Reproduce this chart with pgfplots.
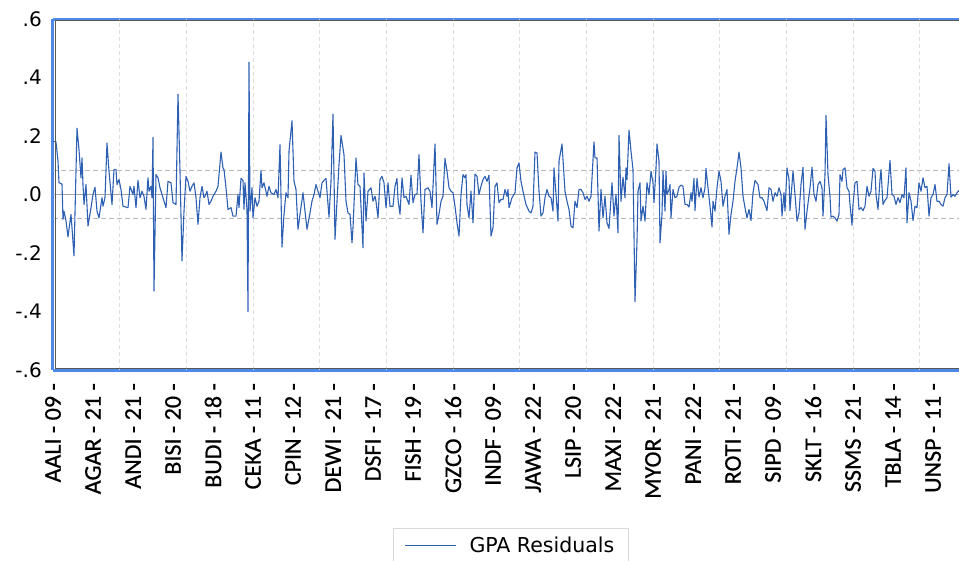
\documentclass[border=0pt]{standalone}
\usepackage{pgfplots}
\pgfplotsset{compat=1.18}
\usepackage{fontspec}
\newfontfamily\dejavu{DejaVu Sans}
\newfontfamily\carlito[FakeBold=0.6]{Carlito}
\definecolor{frameblue}{RGB}{78,136,232}
\definecolor{resblue}{RGB}{45,95,178}
\begin{document}
\begin{tikzpicture}
\begin{axis}[
  name=ax, at={(0,0)}, anchor=south west,
  scale only axis, width=906bp, height=351bp,
  xmin=0, xmax=906, ymin=-0.6, ymax=0.6,
  axis x line*=box, axis y line*=left,
  axis line style={draw=frameblue, line width=3bp},
  major tick length=0pt,
  ytick={-0.6,-0.4,-0.2,0,0.2,0.4,0.6},
  yticklabels={-.6,-.4,-.2,.0,.2,.4,.6},
  yticklabel style={font=\dejavu\fontsize{20bp}{22bp}\selectfont, inner sep=0pt, anchor=east},
  yticklabel shift=11bp,
  xtick={0,40,...,880},
  xticklabels={AALI - 09 -,AGAR - 21 -,ANDI - 21 -,BISI - 20 -,BUDI - 18 -,CEKA - 11 -,CPIN - 12 -,DEWI - 21 -,DSFI - 17 -,FISH - 19 -,GZCO - 16 -,INDF - 09 -,JAWA - 22 -,LSIP - 20 -,MAXI - 22 -,MYOR - 21 -,PANI - 22 -,ROTI - 21 -,SIPD - 09 -,SKLT - 16 -,SSMS - 21 -,TBLA - 14 -,UNSP - 11 -},
  xticklabel style={font=\carlito\fontsize{24bp}{26bp}\selectfont, rotate=90, anchor=east, inner sep=0pt},
  xticklabel shift=13bp,
  extra x ticks={66.667,133.333,200,266.667,333.333,400,466.667,533.333,600,666.667,733.333,800,866.667},
  extra x tick labels={},
  extra x tick style={grid=major, major grid style={draw=black!13, dash pattern=on 4bp off 3bp, line width=0.8bp}},
  legend style={at={(axis description cs:0.3753,-0.45)}, anchor=north west,
    draw=black!15, line width=0.8bp, inner xsep=11bp, inner ysep=6bp,
    font=\dejavu\fontsize{20.5bp}{23bp}\selectfont,
    nodes={inner sep=3bp}},
  legend image code/.code={\draw[#1] (0bp,0bp) -- (51bp,0bp); \path (61bp,0bp);},
  clip=true,
]
\addplot[forget plot, draw=black!35, line width=0.8bp] coordinates {(0,0) (906,0)};
\addplot[forget plot, draw=black!28, line width=0.8bp, dash pattern=on 5bp off 3bp] coordinates {(0,0.0825) (906,0.0825)};
\addplot[forget plot, draw=black!28, line width=0.8bp, dash pattern=on 5bp off 3bp] coordinates {(0,-0.0825) (906,-0.0825)};
\addplot[resblue, line width=1.1bp, line join=round] table[row sep=\\] {
x y\\
0 0.182\\ 3 0.18\\ 5 0.114\\ 6 0.04\\ 9 0.036\\ 10 -0.085\\ 11 -0.057\\ 13 -0.09\\ 15 -0.145\\ 18 -0.068\\
19 -0.114\\ 21 -0.21\\ 24 0.227\\ 26 0.153\\ 28 0.057\\ 29 0.125\\ 30 0.034\\ 31 -0.034\\ 33 0.034\\ 35 -0.108\\
38 -0.045\\ 40 0\\ 42 0.025\\ 44 -0.057\\ 46 -0.08\\ 49 -0.011\\ 50 -0.04\\ 52 -0.011\\ 54 0.176\\ 56 0.08\\
59 -0.034\\ 61 0.085\\ 63 0.085\\ 64 0.034\\ 66 0.051\\ 68 0.017\\ 70 -0.04\\ 75 -0.045\\ 77 0.028\\ 80 0\\
81 0.028\\ 83 -0.045\\ 85 0.048\\ 87 -0.011\\ 89 0.011\\ 91 -0.006\\ 93 -0.051\\ 95 0.057\\ 96 0.011\\ 98 0.028\\
99 -0.011\\ 100 0.195\\ 101 -0.33\\ 103 0.068\\ 105 0.057\\ 107 0.023\\ 109 0\\ 110 -0.011\\ 113 -0.045\\ 115 0.045\\
118 0.04\\ 120 -0.028\\ 123 -0.034\\ 125 0.343\\ 127 0.08\\ 129 -0.227\\ 131 -0.057\\ 133 0.062\\ 135 0.045\\ 137 0.011\\
139 0.028\\ 141 0.04\\ 143 -0.011\\ 145 -0.102\\ 147 -0.011\\ 149 0.028\\ 151 -0.011\\ 152 -0.006\\ 154 0.011\\ 156 -0.034\\
158 -0.023\\ 160 -0.006\\ 163 0.011\\ 165 0.028\\ 168 0.145\\ 170 0.091\\ 171 0.085\\ 173 0.023\\ 175 -0.051\\ 178 -0.045\\
180 -0.074\\ 183 -0.074\\ 185 0\\ 186 -0.045\\ 188 0.055\\ 190 0.048\\ 191 -0.051\\ 192 0.04\\ 194 -0.051\\ 195 -0.4\\
196 0.452\\ 197 -0.057\\ 199 0.023\\ 200 -0.08\\ 202 -0.011\\ 204 -0.04\\ 206 -0.023\\ 208 0.082\\ 209 0.023\\ 211 0.04\\
214 -0.006\\ 216 0.028\\ 218 0.006\\ 221 0\\ 223 0.017\\ 225 -0.011\\ 227 0.17\\ 229 -0.18\\ 231 -0.068\\ 233 0.006\\
235 -0.011\\ 236 0.148\\ 239 0.252\\ 241 0.045\\ 243 0.017\\ 245 -0.119\\ 247 -0.068\\ 250 0.006\\ 252 -0.057\\ 254 -0.119\\
257 -0.063\\ 259 -0.023\\ 261 0\\ 263 0.034\\ 265 0.011\\ 267 -0.011\\ 269 0.04\\ 271 0.048\\ 273 0.055\\ 276 -0.077\\
278 0.045\\ 280 0.275\\ 282 -0.153\\ 284 -0.023\\ 286 0.102\\ 288 0.202\\ 291 0.136\\ 293 -0.023\\ 295 -0.063\\ 297 -0.068\\
299 -0.165\\ 300 -0.114\\ 303 0.125\\ 305 0.034\\ 307 0.028\\ 310 -0.182\\ 311 0.074\\ 313 -0.091\\ 315 0.011\\ 318 0.023\\
320 -0.023\\ 322 -0.006\\ 323 -0.023\\ 325 -0.08\\ 327 0.051\\ 329 0.062\\ 331 0.04\\ 333 -0.045\\ 335 0.04\\ 337 -0.04\\
340 -0.04\\ 342 0.028\\ 344 0.055\\ 345 -0.017\\ 347 -0.068\\ 349 0.057\\ 351 -0.011\\ 353 -0.006\\ 356 -0.034\\ 358 0.066\\
360 -0.028\\ 362 0\\ 364 0.002\\ 366 0.136\\ 368 -0.023\\ 370 -0.131\\ 372 0.017\\ 375 0.023\\ 377 0.011\\ 379 -0.045\\
382 0.173\\ 384 -0.102\\ 386 -0.068\\ 388 -0.023\\ 390 -0.006\\ 392 0.123\\ 394 0.08\\ 396 0.023\\ 398 0.011\\ 400 0.006\\
402 -0.04\\ 404 -0.097\\ 406 -0.142\\ 408 0\\ 410 0.068\\ 412 0.057\\ 413 0.068\\ 414 -0.034\\ 416 -0.08\\ 418 0.011\\
420 -0.097\\ 422 0.07\\ 424 0.062\\ 426 0\\ 428 0.028\\ 430 0.051\\ 432 0.062\\ 434 0.045\\ 436 0.066\\ 438 -0.142\\
440 -0.114\\ 442 0.028\\ 444 0.04\\ 446 -0.028\\ 448 -0.017\\ 450 -0.017\\ 452 0.017\\ 454 -0.006\\ 455 0.017\\ 456 -0.045\\
459 -0.011\\ 462 0.006\\ 464 0.091\\ 466 0.108\\ 468 0.045\\ 470 0.011\\ 473 -0.034\\ 476 -0.057\\ 478 -0.063\\ 480 -0.04\\
482 0.145\\ 484 0.142\\ 486 0.011\\ 488 -0.074\\ 490 -0.063\\ 492 -0.011\\ 494 0.017\\ 496 -0.006\\ 498 -0.011\\ 500 -0.057\\
501 0.091\\ 503 0\\ 505 -0.091\\ 506 0.114\\ 509 0.173\\ 512 0.011\\ 514 -0.023\\ 516 -0.051\\ 518 -0.108\\ 520 -0.114\\
522 -0.023\\ 524 -0.045\\ 526 0.017\\ 528 0.017\\ 530 0.006\\ 532 -0.017\\ 534 -0.006\\ 536 -0.023\\ 538 -0.006\\ 541 0.18\\
542 0.125\\ 544 0.125\\ 546 -0.125\\ 548 0.017\\ 550 -0.08\\ 552 -0.006\\ 554 -0.097\\ 556 -0.116\\ 559 0.04\\ 561 -0.074\\
563 0\\ 565 -0.131\\ 566 0.202\\ 568 -0.023\\ 570 0.059\\ 572 -0.011\\ 573 0.091\\ 574 0.051\\ 576 0.22\\ 578 0.148\\
580 0.085\\ 582 -0.366\\ 584 -0.159\\ 585 0.011\\ 587 0.04\\ 588 -0.091\\ 590 -0.04\\ 592 -0.091\\ 594 0.04\\ 596 0\\
598 0.08\\ 600 0.04\\ 601 -0.028\\ 603 0.091\\ 604 0.173\\ 606 0.114\\ 607 -0.165\\ 609 -0.068\\ 610 0.08\\ 612 -0.057\\
613 0.08\\ 614 0\\ 616 0.017\\ 617 0.034\\ 618 -0.08\\ 620 0.017\\ 622 -0.011\\ 624 -0.006\\ 626 0.025\\ 628 0.032\\
630 0.028\\ 632 -0.034\\ 634 -0.034\\ 636 -0.043\\ 638 0.006\\ 639 -0.023\\ 641 0.055\\ 642 -0.055\\ 644 0.055\\ 646 -0.009\\
648 0.023\\ 650 -0.011\\ 652 0.023\\ 653 0.089\\ 655 0.023\\ 657 -0.04\\ 659 -0.111\\ 660 -0.023\\ 662 -0.057\\ 664 0.023\\
666 0.08\\ 668 0.045\\ 670 -0.04\\ 672 -0.006\\ 674 0.017\\ 676 -0.136\\ 678 -0.068\\ 680 -0.023\\ 682 0.045\\ 684 0.091\\
686 0.145\\ 688 0.091\\ 690 -0.006\\ 692 -0.045\\ 694 -0.08\\ 696 -0.051\\ 698 -0.089\\ 700 0.006\\ 702 0.048\\ 705 0.034\\
707 -0.011\\ 709 -0.011\\ 711 -0.023\\ 714 -0.055\\ 716 0.023\\ 718 0.017\\ 720 -0.023\\ 722 0.006\\ 724 -0.006\\ 726 0.023\\
728 0\\ 729 -0.074\\ 731 0.006\\ 732 -0.057\\ 734 0.091\\ 736 0.051\\ 737 -0.055\\ 740 0.08\\ 742 0\\ 744 -0.091\\
746 -0.063\\ 748 0.034\\ 750 0.093\\ 752 -0.119\\ 754 -0.057\\ 757 0.023\\ 759 0.093\\ 761 0\\ 763 -0.023\\ 765 0.034\\
767 0.045\\ 769 0.023\\ 770 -0.074\\ 772 0.068\\ 773 0.27\\ 775 0.068\\ 777 -0.006\\ 778 -0.077\\ 780 -0.074\\ 782 -0.08\\
784 -0.091\\ 786 -0.068\\ 787 0.068\\ 789 0.045\\ 790 0.085\\ 792 0.091\\ 794 0.023\\ 796 0.011\\ 797 -0.034\\ 799 -0.105\\
800 -0.034\\ 802 0.04\\ 804 0.045\\ 806 -0.051\\ 808 -0.045\\ 810 -0.055\\ 812 -0.04\\ 814 0.028\\ 816 -0.006\\ 818 0.011\\
820 0.089\\ 822 0.08\\ 823 0\\ 825 -0.051\\ 827 0.051\\ 828 0.085\\ 830 -0.034\\ 832 -0.02\\ 834 -0.011\\ 837 0.116\\
839 0\\ 841 -0.006\\ 843 -0.034\\ 845 -0.011\\ 847 -0.028\\ 849 0\\ 851 -0.011\\ 853 0.091\\ 854 -0.097\\ 856 0.006\\
858 -0.023\\ 860 -0.089\\ 862 -0.04\\ 864 -0.045\\ 866 0.04\\ 868 0.011\\ 870 0.057\\ 872 0.023\\ 874 0.028\\ 876 -0.074\\
878 -0.011\\ 880 0\\ 882 0.034\\ 884 -0.023\\ 886 -0.023\\ 888 -0.034\\ 890 -0.04\\ 892 -0.011\\ 894 0\\ 896 0.105\\
898 -0.009\\ 900 0\\ 902 -0.006\\ 904 0.006\\ 906 0.014\\
};
\addlegendentry{GPA Residuals}
\end{axis}
\draw[black!65, line width=0.8bp] (906bp,1.9bp) -- (1.9bp,1.9bp) -- (1.9bp,349.1bp) -- (906bp,349.1bp);
\pgfresetboundingbox
\path[use as bounding box] (-53bp,-191bp) rectangle (906bp,370bp);
\end{tikzpicture}
\end{document}
